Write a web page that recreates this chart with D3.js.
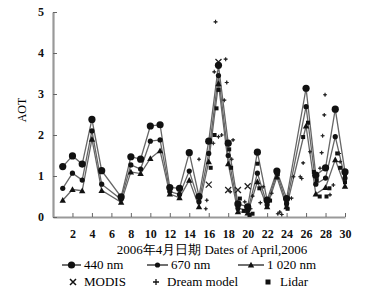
<!DOCTYPE html>
<html>
<head>
<meta charset="utf-8">
<script src="https://cdn.jsdelivr.net/npm/d3@7"></script>
<style>
  body{margin:0;background:#fff;}
  svg{display:block;font-family:"Liberation Serif","Times New Roman",serif;}
  .tick text{font-family:"Liberation Serif",serif;font-size:12px;font-weight:bold;fill:#111;}
</style>
</head>
<body>
<div id="chart"></div>
<script>
// AOT by day of April 2006, three wavelengths plus satellite / model / lidar points
var days=[1,2,3,4,5,7,8,9,10,11,12,13,14,15,16,17,18,19,20,21,22,23,24,26,27,28,29,30];
var aot440=[1.23,1.49,1.29,2.38,1.13,0.49,1.47,1.41,2.22,2.25,0.72,0.70,1.57,0.50,1.85,3.70,1.80,0.32,0.25,1.58,0.41,1.12,0.45,3.14,1.02,1.20,2.63,1.10];
var aot670=[0.70,1.07,0.90,2.10,0.80,0.43,1.27,1.17,1.85,1.88,0.62,0.55,1.12,0.37,1.55,3.45,1.50,0.22,0.15,1.07,0.30,1.07,0.33,2.69,0.80,0.95,1.96,0.95];
var aot1020=[0.41,0.67,0.64,1.90,0.65,0.36,1.10,1.06,1.43,1.62,0.56,0.47,0.90,0.25,1.35,3.25,1.30,0.13,0.10,0.86,0.25,0.98,0.25,2.22,0.56,0.72,1.40,0.75];

var modis=[[16,0.79],[17,3.78],[18,0.66],[19,0.66],[20,0.75]];
var dream=[[16.7,4.76],[17.74,3.85],[17.85,3.28],[17.6,2.85],[16.57,3.54],[27.95,2.98],[27.87,2.49],[27.7,1.98],
  [27.6,1.57],[25.7,1.32],[25.55,0.94],[26.4,1.59],[27.43,1.19],[28.46,0.54],[24.7,0.98],[24.5,0.46],[18.36,1.41],
  [17.33,2.0],[17.0,1.96],[16.47,1.8],[18.5,1.88],[15.8,0.41],[18.2,0.62],[22.47,0.58],[23.3,0.12],[23.1,0.08],
  [23.5,0.06],[25.4,0.98],[20.5,0.51],[21.6,0.74],[19.7,0.37],[15.0,1.41],[29.4,1.55],[29.5,1.35],[28.8,0.78],
  [15.7,0.2],[20.3,0.2],[21.3,0.35]];
var lidar=[[16.8,2.65],[17.0,3.1],[16.6,2.0],[18.1,1.65],[18.3,1.2],[19.2,0.45],[19.6,0.15],[20.2,0.05],[20.5,0.08],
  [21.0,1.3],[21.2,0.7],[22.3,0.4],[23.1,1.05],[24.1,0.2],[25.7,1.95],[26.2,2.3],[26.8,1.1],[27.1,0.9],[27.4,0.5],
  [28.1,0.5],[28.4,0.7],[29.2,1.55],[29.5,1.2],[30,0.85],[30,1.0],[16.2,1.2],[19.0,0.2],[24.0,0.3]];

var yTicks=[0,1,2,3,4,5];
var xTicks=[2,4,6,8,10,12,14,16,18,20,22,24,26,28,30];

var W=370,H=296;
var svg=d3.select("#chart").append("svg").attr("width",W).attr("height",H);

var x=d3.scaleLinear().domain([0,30]).range([53,345]);
var y=d3.scaleLinear().domain([0,5]).range([217,12]);

// axes: grey heavy lines, ticks pointing inward
var xa=svg.append("g").attr("transform","translate(0,"+y(0)+")")
  .call(d3.axisBottom(x).tickValues(xTicks).tickSize(-4).tickPadding(12).tickSizeOuter(0));
xa.select(".domain").attr("stroke","#999").attr("stroke-width",2.2);
xa.selectAll(".tick line").attr("stroke","#666");
var ya=svg.append("g").attr("transform","translate("+x(0)+",0)")
  .call(d3.axisLeft(y).tickValues(yTicks).tickFormat(d3.format("d")).tickSize(-4).tickPadding(9).tickSizeOuter(0));
ya.select(".domain").attr("stroke","#999").attr("stroke-width",2.2);
ya.selectAll(".tick line").attr("stroke","#666");

svg.append("text").attr("transform","translate(26,110) rotate(-90)").attr("text-anchor","middle")
  .attr("font-size",12).text("AOT");

var series=[
  {vals:aot440,shape:"circle",r:3.6},
  {vals:aot670,shape:"circle",r:2.6},
  {vals:aot1020,shape:"tri",r:3.2}
];
var line=d3.line().x(function(d){return x(d[0]);}).y(function(d){return y(d[1]);});

series.slice().reverse().forEach(function(s){
  var pts=days.map(function(d,i){return [d,s.vals[i]];});
  svg.append("path").datum(pts).attr("d",line).attr("fill","none").attr("stroke","#666").attr("stroke-width",1.3);
});

// scatter points
svg.append("g").selectAll("rect").data(lidar).enter().append("rect")
  .attr("x",function(d){return x(d[0])-2;}).attr("y",function(d){return y(d[1])-2;})
  .attr("width",4).attr("height",4).attr("fill","#111");
var dg=svg.append("g").attr("stroke","#222").attr("stroke-width",1.1);
dream.forEach(function(d){
  var cx=x(d[0]),cy=y(d[1]);
  dg.append("path").attr("d","M"+(cx-2)+","+cy+"H"+(cx+2)+"M"+cx+","+(cy-2)+"V"+(cy+2));
  dg.append("circle").attr("cx",cx).attr("cy",cy).attr("r",1).attr("fill","#222").attr("stroke","none");
});
var mg=svg.append("g").attr("stroke","#222").attr("stroke-width",1.3);
modis.forEach(function(d){
  var cx=x(d[0]),cy=y(d[1]);
  mg.append("path").attr("d","M"+(cx-3)+","+(cy-3)+"L"+(cx+3)+","+(cy+3)+"M"+(cx+3)+","+(cy-3)+"L"+(cx-3)+","+(cy+3));
});

function marker(g,shape,cx,cy,r){
  if(shape==="circle") g.append("circle").attr("cx",cx).attr("cy",cy).attr("r",r).attr("fill","#111");
  else g.append("path").attr("d","M"+cx+","+(cy-r)+"L"+(cx+r)+","+(cy+r*0.8)+"L"+(cx-r)+","+(cy+r*0.8)+"Z").attr("fill","#111");
}
series.forEach(function(s){
  var g=svg.append("g");
  days.forEach(function(d,i){marker(g,s.shape,x(d),y(s.vals[i]),s.r);});
});

// x title
svg.append("text").attr("x",212).attr("y",254).attr("text-anchor","middle").attr("font-size",13)
  .text("2006年4月日期  Dates of April,2006");

// legend
var legLines=[{x1:62,x2:81,label:"440 nm",shape:"circle",r:3.6},{x1:147,x2:168,label:"670 nm",shape:"circle",r:2.6},{x1:238,x2:264,label:"1 020 nm",shape:"tri",r:3.2}];
legLines.forEach(function(l){
  var g=svg.append("g");
  g.append("line").attr("x1",l.x1).attr("x2",l.x2).attr("y1",265).attr("y2",265).attr("stroke","#111").attr("stroke-width",1.2);
  marker(g,l.shape,(l.x1+l.x2)/2,265,l.r);
  g.append("text").attr("x",l.x2+3).attr("y",269).attr("font-size",13).text(l.label);
});
var lg=svg.append("g");
lg.append("path").attr("d","M70,279L76,285M76,279L70,285").attr("stroke","#111").attr("stroke-width",1.5);
lg.append("text").attr("x",84).attr("y",286).attr("font-size",13).text("MODIS");
lg.append("path").attr("d","M153,282H159M156,279V285").attr("stroke","#111").attr("stroke-width",1.3);
lg.append("text").attr("x",167).attr("y",286).attr("font-size",13).text("Dream model");
lg.append("rect").attr("x",265.5).attr("y",279.5).attr("width",5).attr("height",5).attr("fill","#111");
lg.append("text").attr("x",280).attr("y",286).attr("font-size",13).text("Lidar");
</script>
</body>
</html>
